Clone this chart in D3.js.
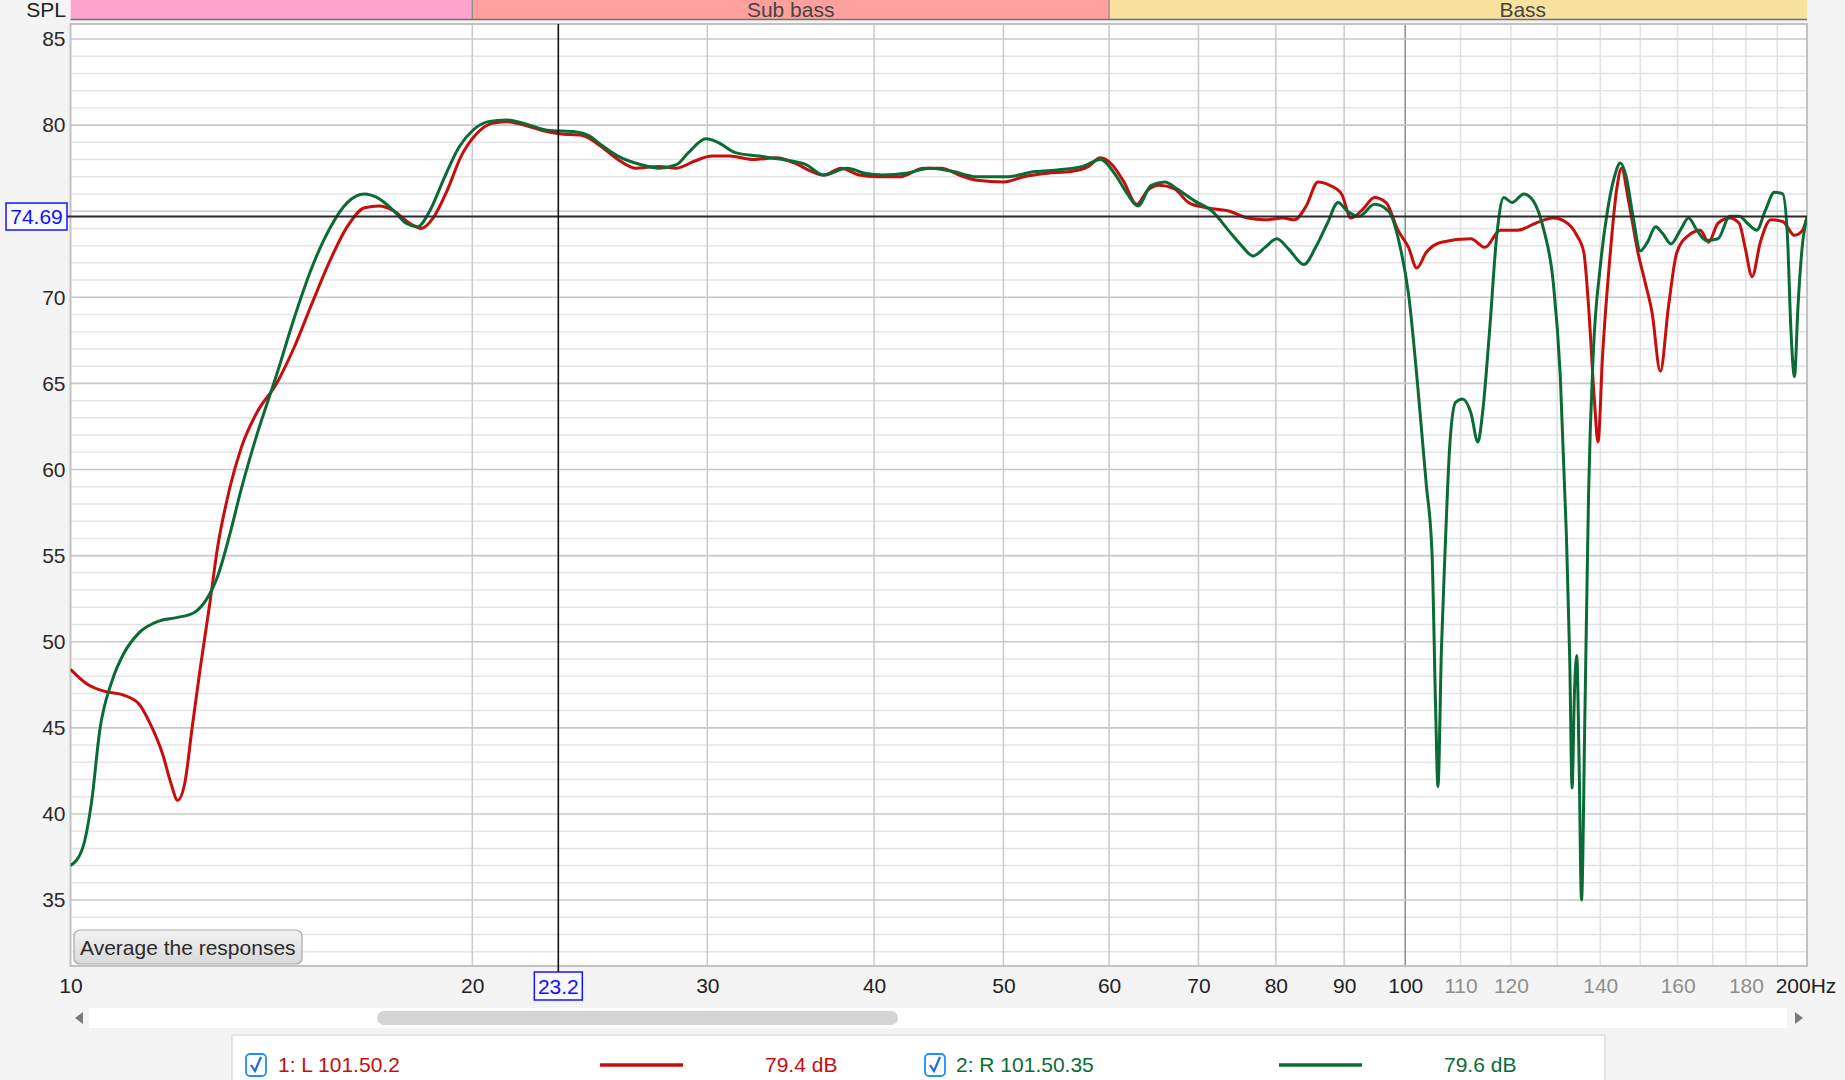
<!DOCTYPE html>
<html>
<head>
<meta charset="utf-8">
<script src="https://cdn.jsdelivr.net/npm/d3@7"></script>
<style>
  html, body { margin: 0; padding: 0; background: #f4f4f4; }
  svg { display: block; font-family: "Liberation Sans", Arial, Helvetica, sans-serif; }
</style>
</head>
<body>
<svg id="chart" width="1845" height="1080"></svg>
<script>
// ---------- data ----------
const bandNames  = ["", "Sub bass", "Bass"];
const bandStarts = [5, 20, 60];
const bandEnds   = [20, 60, 250];
const bandColors = ["#ffa3cf", "#ffa09c", "#f8e29f"];

const yTicks = [35, 40, 45, 50, 55, 60, 65, 70, 75, 80, 85];
const yLabelTicks = [35, 40, 45, 50, 55, 60, 65, 70, 80, 85]; // 75 is hidden by the cursor readout
const xMajorGrid = [20, 30, 40, 50, 60, 70, 80, 90];
const xMinorGrid = [110, 120, 130, 140, 150, 160, 170, 180, 190];
const xDarkLabels = ["10", "20", "30", "40", "50", "60", "70", "80", "90", "100"];
const xDarkLabelFreqs = [10, 20, 30, 40, 50, 60, 70, 80, 90, 100];
const xGrayLabels = ["110", "120", "140", "160", "180"];
const xGrayLabelFreqs = [110, 120, 140, 160, 180];

const cursorFreq = 23.2;
const cursorDb = 74.69;

const seriesNames = ["1: L 101.50.2", "2: R 101.50.35"];
const seriesLevels = ["79.4 dB", "79.6 dB"];

// Left channel (red)
const lFreq = [10, 10.31, 10.63, 10.96, 11.25, 11.48, 11.72, 11.89, 12.03, 12.18,
  12.33, 12.50, 12.71, 12.89, 13.16, 13.43, 13.79, 14.27, 14.71, 15.16,
  15.64, 16.12, 16.61, 17.02, 17.48, 17.95, 18.31, 18.69, 19.15, 19.62,
  20.15, 20.69, 21.20, 21.86, 22.53, 23.23, 24.19, 24.93, 25.71, 26.50,
  27.60, 28.45, 29.33, 30.24, 31.17, 32.46, 33.81, 34.85, 35.93, 36.67,
  37.80, 38.97, 40.18, 41.84, 43.58, 44.93, 46.32, 47.75, 50.03, 51.79,
  53.94, 56.17, 57.91, 59.10, 60.31, 61.55, 62.93, 64.10, 65.41, 67.16,
  68.82, 70.94, 73.88, 76.17, 78.52, 80.95, 82.61, 84.30, 86.03, 87.80,
  89.60, 91.07, 92.93, 94.84, 96.77, 98.75, 100.57, 102.01, 103.68, 106.45,
  111.99, 114.75, 117.82, 121.46, 125.22, 129.09, 132.28, 134.44, 136.09, 137.20,
  138.60, 139.45, 140.58, 142.31, 144.05, 145.23, 147.01, 149.41, 151.24, 153.10,
  155.29, 157.51, 159.77, 163.04, 166.39, 168.77, 171.53, 175.05, 177.92, 179.73,
  181.93, 184.53, 187.93, 191.79, 195.72, 198.52, 199.4, 200];
const lDb = [48.4, 47.5, 47.1, 46.9, 46.4, 45.2, 43.5, 41.8, 40.8, 41.8,
  44.9, 48.3, 52.1, 55.5, 58.9, 61.3, 63.3, 65.0, 67.1, 69.6,
  72.1, 74.1, 75.2, 75.3, 75.0, 74.3, 74.0, 74.6, 76.2, 78.2,
  79.5, 80.1, 80.2, 80.0, 79.7, 79.5, 79.4, 78.8, 78.0, 77.5,
  77.6, 77.5, 77.9, 78.2, 78.2, 78.0, 78.1, 77.8, 77.3, 77.1,
  77.5, 77.1, 77.0, 77.0, 77.5, 77.5, 77.1, 76.8, 76.7, 77.0,
  77.2, 77.3, 77.6, 78.1, 77.7, 76.7, 75.4, 76.2, 76.5, 76.3,
  75.5, 75.2, 75.0, 74.6, 74.5, 74.6, 74.5, 75.3, 76.7, 76.5,
  76.0, 74.6, 75.1, 75.8, 75.5, 73.9, 72.9, 71.7, 72.6, 73.2,
  73.4, 72.9, 73.9, 73.9, 74.3, 74.6, 74.3, 73.6, 72.6, 69.5,
  64.0, 61.6, 66.7, 72.2, 76.3, 77.5, 75.6, 72.6, 70.9, 69.1,
  65.7, 69.5, 72.6, 73.6, 73.9, 73.2, 74.3, 74.6, 74.3, 72.9,
  71.2, 73.2, 74.5, 74.4, 73.6, 73.9, 74.3, 74.6];

// Right channel (green)
const rFreq = [10, 10.21, 10.37, 10.52, 10.74, 10.96, 11.25, 11.65, 12.01, 12.38,
  12.63, 12.89, 13.16, 13.43, 13.79, 14.27, 14.71, 15.16, 15.64, 16.12,
  16.61, 16.96, 17.48, 17.84, 18.20, 18.58, 19.07, 19.54, 20.02, 20.56,
  21.20, 21.86, 22.76, 23.94, 24.43, 25.03, 25.71, 26.77, 27.60, 28.45,
  29.04, 29.93, 30.55, 31.49, 32.79, 34.16, 35.57, 36.67, 38.19, 39.37,
  40.59, 42.27, 44.03, 45.85, 47.75, 50.23, 52.85, 55.04, 57.32, 59.10,
  60.68, 61.92, 63.06, 64.51, 66.07, 67.43, 69.52, 71.66, 73.88, 75.40,
  76.92, 78.52, 80.13, 81.78, 83.96, 85.68, 87.44, 89.05, 90.51, 92.37,
  94.84, 97.16, 99.15, 100.57, 102.22, 103.68, 104.74, 105.38, 105.81, 106.45,
  107.10, 107.97, 109.07, 110.41, 111.99, 113.36, 114.28, 115.68, 117.11, 118.54,
  120.24, 122.70, 124.72, 127.02, 129.09, 130.68, 132.01, 132.82, 133.36, 133.90,
  134.44, 134.99, 135.54, 136.37, 137.20, 138.32, 140.01, 141.74, 143.47, 144.94,
  146.42, 148.21, 150.03, 151.87, 154.04, 155.91, 158.15, 160.75, 163.04, 165.38,
  168.09, 171.53, 175.05, 177.92, 180.46, 183.41, 186.04, 189.08, 191.79, 193.35,
  194.53, 195.72, 196.92, 198.52, 199.4, 200];
const rDb = [37.0, 38.0, 40.7, 44.9, 47.7, 49.3, 50.5, 51.2, 51.4, 51.7,
  52.4, 53.8, 56.2, 58.9, 62.0, 65.5, 68.8, 71.7, 74.0, 75.5,
  76.0, 75.8, 75.0, 74.3, 74.1, 75.0, 77.0, 78.7, 79.7, 80.2,
  80.3, 80.1, 79.7, 79.6, 79.4, 78.8, 78.2, 77.7, 77.5, 77.7,
  78.4, 79.2, 79.0, 78.4, 78.2, 78.0, 77.7, 77.1, 77.5, 77.2,
  77.1, 77.2, 77.5, 77.3, 77.0, 77.0, 77.3, 77.4, 77.6, 78.0,
  77.1, 76.0, 75.3, 76.5, 76.7, 76.3, 75.6, 75.0, 73.8, 73.0,
  72.4, 72.9, 73.4, 72.8, 71.9, 72.9, 74.3, 75.5, 75.0, 74.7,
  75.4, 75.0, 72.9, 70.2, 64.7, 59.2, 55.1, 46.2, 41.6, 49.6,
  55.1, 61.3, 63.9, 64.1, 63.3, 61.6, 63.3, 68.1, 73.6, 75.8,
  75.5, 76.0, 75.6, 73.9, 70.9, 65.4, 56.5, 49.0, 41.5, 47.0,
  49.2, 42.9, 35.0, 46.2, 58.5, 66.7, 71.8, 75.0, 77.0, 77.8,
  77.0, 74.6, 72.7, 73.2, 74.1, 73.7, 73.1, 73.9, 74.6, 73.9,
  73.3, 73.4, 74.7, 74.7, 74.3, 73.9, 75.0, 76.1, 76.0, 73.6,
  68.1, 65.4, 69.5, 73.2, 74.2, 74.7];

const seriesColors = ["#c80d0d", "#0b6b36"];

// ---------- layout ----------
const FS = 21;
const svg = d3.select("#chart");
const W = 1845, H = 1080;
const plot = { left: 70.5, right: 1807, top: 24, bottom: 966 };

const x = d3.scaleLog().domain([10, 200]).range([plot.left, plot.right]);
const y = d3.scaleLinear().domain([31.17, 85.87]).range([plot.bottom, plot.top]);

svg.append("rect").attr("width", W).attr("height", H).attr("fill", "#f4f4f4");

const defs = svg.append("defs");
defs.append("clipPath").attr("id", "bandclip").append("rect")
  .attr("x", plot.left).attr("y", 0).attr("width", plot.right - plot.left).attr("height", 20);
defs.append("clipPath").attr("id", "plotclip").append("rect")
  .attr("x", plot.left).attr("y", plot.top).attr("width", plot.right - plot.left).attr("height", plot.bottom - plot.top);

// bands header
const bandG = svg.append("g").attr("clip-path", "url(#bandclip)");
bandNames.forEach((n, i) => {
  const x0 = Math.max(plot.left, x(bandStarts[i]));
  const x1 = x(bandEnds[i]);
  bandG.append("rect").attr("x", x0).attr("y", 0).attr("width", x1 - x0).attr("height", 19)
    .attr("fill", bandColors[i]);
  if (i > 0) bandG.append("line").attr("x1", x(bandStarts[i])).attr("x2", x(bandStarts[i]))
    .attr("y1", 0).attr("y2", 19).attr("stroke", "#8a8a8a").attr("stroke-width", 1.2);
  if (n) bandG.append("text").attr("x", (x(bandStarts[i]) + x1) / 2).attr("y", 16.5)
    .attr("text-anchor", "middle").attr("font-size", FS).attr("fill", "#444").text(n);
});
svg.append("line").attr("x1", plot.left).attr("x2", plot.right).attr("y1", 19.5).attr("y2", 19.5)
  .attr("stroke", "#707070").attr("stroke-width", 1.6);

svg.append("text").attr("x", 66).attr("y", 16.5).attr("text-anchor", "end")
  .attr("font-size", FS).attr("fill", "#222").text("SPL");

// plot area
svg.append("rect").attr("x", plot.left).attr("y", plot.top)
  .attr("width", plot.right - plot.left).attr("height", plot.bottom - plot.top).attr("fill", "#ffffff");

const grid = svg.append("g");
d3.range(32, 86).forEach(v => {
  if (v % 5 === 0) return;
  grid.append("line").attr("x1", plot.left).attr("x2", plot.right)
    .attr("y1", y(v)).attr("y2", y(v)).attr("stroke", "#e4e4e4").attr("stroke-width", 1.5);
});
xMinorGrid.forEach(f => grid.append("line").attr("x1", x(f)).attr("x2", x(f))
  .attr("y1", plot.top).attr("y2", plot.bottom).attr("stroke", "#e2e2e2").attr("stroke-width", 1.5));
xMajorGrid.forEach(f => grid.append("line").attr("x1", x(f)).attr("x2", x(f))
  .attr("y1", plot.top).attr("y2", plot.bottom).attr("stroke", "#c9c9c9").attr("stroke-width", 1.5));
grid.append("line").attr("x1", x(100)).attr("x2", x(100))
  .attr("y1", plot.top).attr("y2", plot.bottom).attr("stroke", "#8c8c8c").attr("stroke-width", 1.5);
yTicks.forEach(v => grid.append("line").attr("x1", plot.left).attr("x2", plot.right)
  .attr("y1", y(v)).attr("y2", y(v)).attr("stroke", "#c8c8c8").attr("stroke-width", 1.6));

svg.append("rect").attr("x", plot.left).attr("y", plot.top)
  .attr("width", plot.right - plot.left).attr("height", plot.bottom - plot.top)
  .attr("fill", "none").attr("stroke", "#c2c2c2").attr("stroke-width", 2);

// y axis labels
const yAxis = d3.axisLeft(y).tickValues(yLabelTicks).tickSize(0).tickPadding(4);
const yg = svg.append("g").attr("transform", `translate(${plot.left - 1},0)`).call(yAxis);
yg.select(".domain").remove();
yg.selectAll("text").attr("font-size", FS).attr("fill", "#2a2a2a")
  .attr("font-family", '"Liberation Sans", Arial, sans-serif');

// x axis labels
const xTop = plot.bottom + 12.5;
const xAxisDark = d3.axisBottom(x).tickValues(xDarkLabelFreqs).tickSize(0).tickPadding(0)
  .tickFormat((d, i) => xDarkLabels[i]);
const xg = svg.append("g").attr("transform", `translate(0,${xTop})`).call(xAxisDark);
xg.select(".domain").remove();
xg.selectAll("text").attr("font-size", FS).attr("fill", "#222")
  .attr("font-family", '"Liberation Sans", Arial, sans-serif');

const xAxisGray = d3.axisBottom(x).tickValues(xGrayLabelFreqs).tickSize(0).tickPadding(0)
  .tickFormat((d, i) => xGrayLabels[i]);
const xg2 = svg.append("g").attr("transform", `translate(0,${xTop})`).call(xAxisGray);
xg2.select(".domain").remove();
xg2.selectAll("text").attr("font-size", FS).attr("fill", "#8e8e8e")
  .attr("font-family", '"Liberation Sans", Arial, sans-serif');

svg.append("text").attr("x", x(200) - 1).attr("y", xTop + FS * 0.71)
  .attr("text-anchor", "middle").attr("font-size", FS).attr("fill", "#222").text("200Hz");

// curves
const line = d3.line().x(d => x(d[0])).y(d => y(d[1])).curve(d3.curveMonotoneX);
const curveG = svg.append("g").attr("clip-path", "url(#plotclip)");
curveG.append("path").datum(lFreq.map((f, i) => [f, lDb[i]]))
  .attr("d", line).attr("fill", "none").attr("stroke", seriesColors[0]).attr("stroke-width", 3)
  .attr("stroke-linejoin", "round");
curveG.append("path").datum(rFreq.map((f, i) => [f, rDb[i]]))
  .attr("d", line).attr("fill", "none").attr("stroke", seriesColors[1]).attr("stroke-width", 3)
  .attr("stroke-linejoin", "round");

// cursor
svg.append("line").attr("x1", 67).attr("x2", plot.right).attr("y1", y(cursorDb)).attr("y2", y(cursorDb))
  .attr("stroke", "#2b2b2b").attr("stroke-width", 2);
svg.append("line").attr("x1", x(cursorFreq)).attr("x2", x(cursorFreq)).attr("y1", plot.top).attr("y2", plot.bottom + 6)
  .attr("stroke", "#111").attr("stroke-width", 1.6);

svg.append("rect").attr("x", 6).attr("y", y(cursorDb) - 13.5).attr("width", 61).attr("height", 27)
  .attr("fill", "#f8f8ff").attr("stroke", "#1515ff").attr("stroke-width", 1.5);
svg.append("text").attr("x", 36.5).attr("y", y(cursorDb) + 7.5).attr("text-anchor", "middle")
  .attr("font-size", FS).attr("fill", "#1010ff").text(cursorDb.toFixed(2));

const cx = x(cursorFreq);
svg.append("rect").attr("x", cx - 24).attr("y", 972).attr("width", 48).attr("height", 28)
  .attr("fill", "#f8f8ff").attr("stroke", "#1515ff").attr("stroke-width", 1.5);
svg.append("text").attr("x", cx).attr("y", 993.5).attr("text-anchor", "middle")
  .attr("font-size", FS).attr("fill", "#1010ff").text(String(cursorFreq));

// Average button
const btnGrad = defs.append("linearGradient").attr("id", "btn").attr("x1", 0).attr("x2", 0).attr("y1", 0).attr("y2", 1);
btnGrad.append("stop").attr("offset", "0%").attr("stop-color", "#f2f2f2");
btnGrad.append("stop").attr("offset", "100%").attr("stop-color", "#d9d9d9");
svg.append("rect").attr("x", 74).attr("y", 930).attr("width", 228).attr("height", 34).attr("rx", 6)
  .attr("fill", "url(#btn)").attr("stroke", "#a9a9a9").attr("stroke-width", 1.2);
svg.append("text").attr("x", 80).attr("y", 955).attr("font-size", FS).attr("fill", "#2a2a2a")
  .text("Average the responses");

// scrollbar
svg.append("rect").attr("x", 89).attr("y", 1008).attr("width", 1698).attr("height", 20).attr("fill", "#ffffff");
svg.append("rect").attr("x", 377).attr("y", 1011).attr("width", 521).attr("height", 14).attr("rx", 7)
  .attr("fill", "#d5d5d5");
svg.append("path").attr("d", "M83,1012 L75,1018 L83,1024 Z").attr("fill", "#7a7a7a");
svg.append("path").attr("d", "M1795,1012 L1803,1018 L1795,1024 Z").attr("fill", "#7a7a7a");

// legend
svg.append("rect").attr("x", 232).attr("y", 1035).attr("width", 1373).attr("height", 60)
  .attr("fill", "#ffffff").attr("stroke", "#dcdcdc").attr("stroke-width", 1.5);
const legX = [[246, 278, 600, 683, 765], [925, 956, 1279, 1362, 1444]];
legX.forEach((p, i) => {
  const g = svg.append("g");
  g.append("rect").attr("x", p[0]).attr("y", 1054).attr("width", 20).attr("height", 22).attr("rx", 4)
    .attr("fill", "#fff").attr("stroke", "#1f8fff").attr("stroke-width", 1.8);
  g.append("path").attr("d", `M${p[0] + 5},${1065} L${p[0] + 9},${1071} L${p[0] + 15},${1057}`)
    .attr("fill", "none").attr("stroke", "#1f6fe0").attr("stroke-width", 2.2);
  g.append("text").attr("x", p[1]).attr("y", 1072).attr("font-size", FS).attr("fill", seriesColors[i])
    .text(seriesNames[i]);
  g.append("line").attr("x1", p[2]).attr("x2", p[3]).attr("y1", 1065).attr("y2", 1065)
    .attr("stroke", seriesColors[i]).attr("stroke-width", 3.5);
  g.append("text").attr("x", p[4]).attr("y", 1072).attr("font-size", FS).attr("fill", seriesColors[i])
    .text(seriesLevels[i]);
});
</script>
</body>
</html>
